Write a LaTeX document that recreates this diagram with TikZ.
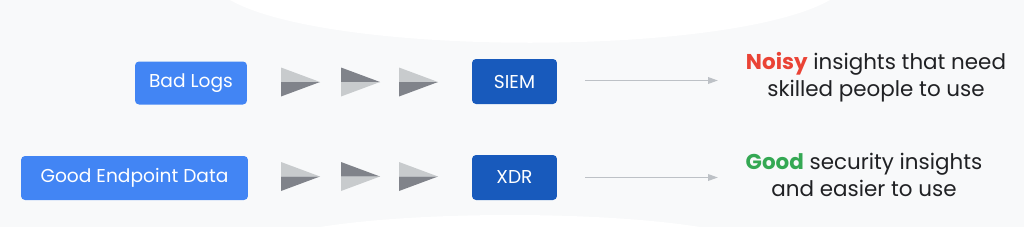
\documentclass[tikz,border=0pt]{standalone}
\usepackage{fontspec}
\setmainfont{Poppins}
\usetikzlibrary{arrows.meta}
\definecolor{bgc}{HTML}{F8F9FA}
\definecolor{lblue}{HTML}{4285F4}
\definecolor{dblue}{HTML}{185ABC}
\definecolor{tlight}{HTML}{C8CBCD}
\definecolor{tdark}{HTML}{80838A}
\definecolor{arrc}{HTML}{BDC1C6}
\definecolor{txt}{HTML}{202124}
\definecolor{gred}{HTML}{EA4335}
\definecolor{ggreen}{HTML}{34A853}
\tikzset{
  boxbase/.style={rounded corners=0.08cm, inner sep=0pt, text=white, font=\fontsize{10.6}{12}\selectfont, anchor=center},
  srcbox/.style={boxbase, fill=lblue},
  sysbox/.style={boxbase, fill=dblue, minimum width=1.7cm, minimum height=0.9cm},
  conn/.style={draw=arrc, line width=0.035cm, -{Triangle[length=0.2cm,width=0.13cm]}},
  outtext/.style={align=center, text=txt, font=\fontsize{12.2}{15.3}\selectfont, anchor=center}
}
\newcommand{\tripair}[4]{%
  \fill[#3] (#1,#2-14.5) -- (#1,#2) -- (#1+39,#2) -- cycle;
  \fill[#4] (#1,#2+14.5) -- (#1,#2) -- (#1+39,#2) -- cycle;}
\begin{document}
\begin{tikzpicture}[x=0.02cm,y=-0.02cm]
\fill[bgc] (0,0) rectangle (1024,227);
\useasboundingbox (0,0) rectangle (1024,227);
\fill[white] (230,0) .. controls (330,57) and (730,57) .. (830,0) -- cycle;
\fill[white] (320,227) .. controls (420,211) and (600,211) .. (700,227) -- cycle;

\node[srcbox, minimum width=2.24cm, minimum height=0.86cm] (bad) at (191,83) {Bad Logs};
\node[srcbox, minimum width=4.54cm, minimum height=0.88cm] (good) at (134.5,178) {Good Endpoint Data};
\node[sysbox] (siem) at (514.5,81.5) {SIEM};
\node[sysbox] (xdr) at (514.5,177.5) {XDR};

\tripair{281}{82}{tlight}{tdark}
\tripair{341}{82}{tdark}{tlight}
\tripair{399}{82}{tlight}{tdark}
\tripair{281}{176.5}{tlight}{tdark}
\tripair{341}{176.5}{tdark}{tlight}
\tripair{399}{176.5}{tlight}{tdark}

\node[outtext] (noisy) at (876,77.5) {{\color{gred}\bfseries Noisy} insights that need\\skilled people to use};
\node[outtext] (goodtxt) at (864,174.5) {{\color{ggreen}\bfseries Good} security insights\\and easier to use};

\coordinate (e1) at (718,80.5);
\coordinate (e2) at (718,177.5);
\draw[conn, shorten <=0.56cm] (siem.east |- e1) -- (e1);
\draw[conn, shorten <=0.56cm] (xdr.east |- e2) -- (e2);
\end{tikzpicture}
\end{document}
